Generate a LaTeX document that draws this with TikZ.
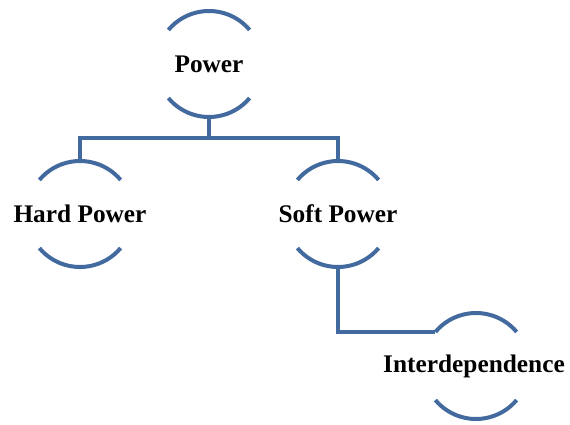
\documentclass[tikz,border=0pt]{standalone}
\usepackage{fontspec}
\setmainfont{Liberation Serif}
\usetikzlibrary{positioning,calc}
\definecolor{rimblue}{RGB}{67,106,158}
\begin{document}
\begin{tikzpicture}
[x=0.75pt,y=0.75pt,
topic/.style={inner sep=0pt,font=\fontsize{19}{22}\selectfont\bfseries},
rim/.style={draw=rimblue,line width=3pt},
link/.style={draw=rimblue,line width=3pt}]
\useasboundingbox (0,0) rectangle (570,-424);
%%
\node (pw) [topic] at (209,-64) {Power};
\node (hp) [topic] at (80,-214) {Hard Power};
\node (sp) [topic] at (338,-214) {Soft Power};
\node (id) [topic] at (474,-366) {Interdependence};
%%
\foreach \n in {pw,hp,sp} {
  \coordinate (\n-top) at ($(\n.center)+(0,53)$);
  \coordinate (\n-bot) at ($(\n.center)+(0,-53)$);
}
\coordinate (id-c) at (476,-366);
\coordinate (id-nw) at ($(id-c)+(140:53)$);
\foreach \c in {pw.center,hp.center,sp.center,id-c} {
  \draw[rim] ($(\c)+(40:53)$) arc[start angle=40,end angle=140,radius=53];
  \draw[rim] ($(\c)+(220:53)$) arc[start angle=220,end angle=320,radius=53];
}
%%
\draw[link] (pw-bot) -- ++(0,-21) coordinate (fork);
\draw[link] (hp-top) |- (fork) -| (sp-top);
\draw[link] (sp-bot) |- (id-nw);
\end{tikzpicture}
\end{document}
